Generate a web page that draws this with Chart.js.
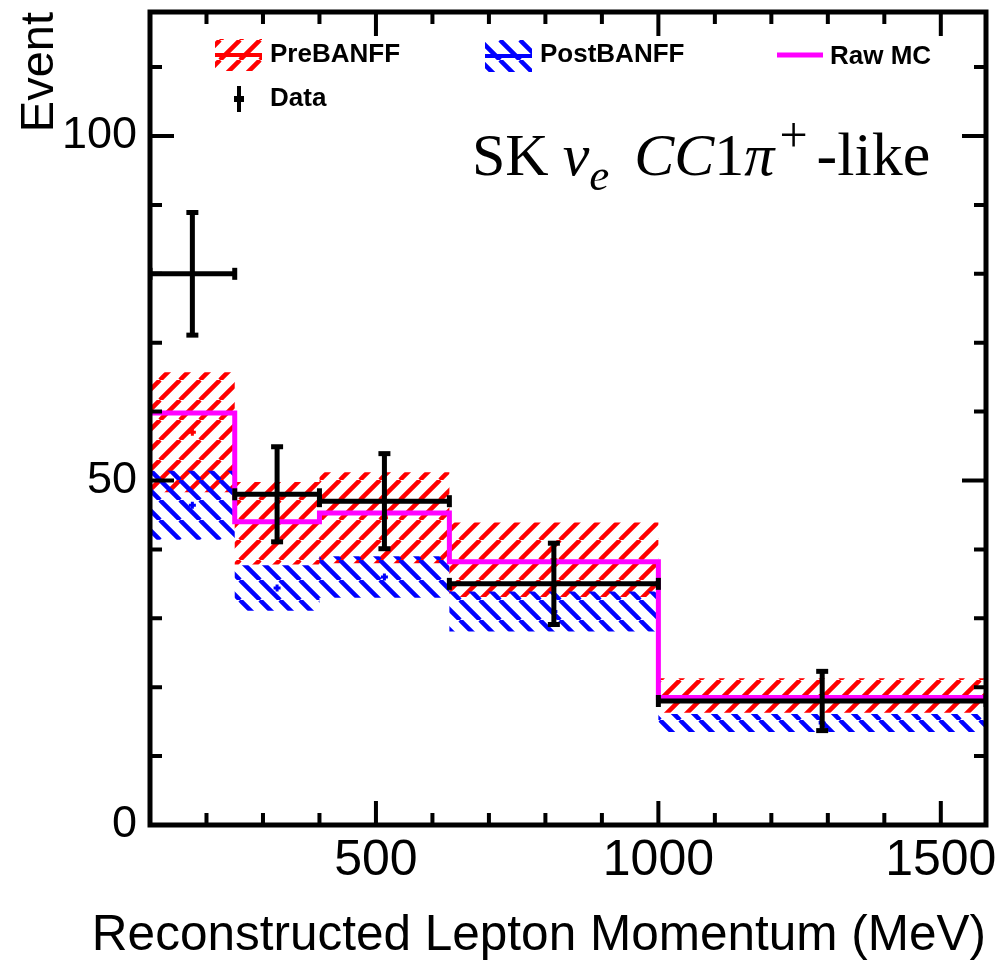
<!DOCTYPE html>
<html><head><meta charset="utf-8">
<script src="https://cdn.jsdelivr.net/npm/chart.js@4.4.0/dist/chart.umd.min.js"></script>
<style>html,body{margin:0;padding:0;background:#fff;overflow:hidden}</style>
</head><body>
<canvas id="c" width="997" height="963"></canvas>
<script>
// ---- data ----
const binEdges = [100, 250, 400, 630, 1000, 1580];
const preBANFF = [57.0, 43.8, 44.6, 38.5, 18.8];
const preBANFFErr = [8.7, 6.0, 6.6, 5.4, 2.5];
const postBANFF = [46.4, 34.4, 36.0, 31.0, 14.8];
const postBANFFErr = [5.0, 3.3, 3.0, 2.9, 1.3];
const rawMC = [59.8, 44.0, 45.3, 38.2, 18.5];
const dataEvents = [80, 48, 47, 35, 18];
const dataErr = [8.9, 6.9, 6.9, 5.9, 4.3];
const xTickLabels = [500, 1000, 1500];
const yTickLabels = [0, 50, 100];
const legendLabels = ['PreBANFF', 'PostBANFF', 'Raw MC', 'Data'];
const xTitle = 'Reconstructed Lepton Momentum (MeV)';
const yTitle = 'Event';
const xRange = [100, 1580];
const yRange = [0, 118];

// ---- helpers ----
const centers = preBANFF.map((_, i) => (binEdges[i] + binEdges[i + 1]) / 2);
function stepPts(vals) {
  return binEdges.map((e, i) => ({ x: e, y: vals[Math.min(i, vals.length - 1)] }));
}
function hatch(color, dir) {
  const s = 20, c = document.createElement('canvas');
  c.width = s; c.height = s;
  const g = c.getContext('2d');
  g.strokeStyle = color; g.lineWidth = 4.5;
  g.beginPath();
  for (let k = -1; k <= 1; k++) {
    if (dir > 0) { g.moveTo(k * s, s); g.lineTo(k * s + s, 0); }
    else { g.moveTo(k * s, 0); g.lineTo(k * s + s, s); }
  }
  g.stroke();
  return g.createPattern(c, 'repeat');
}
const redHatch = hatch('#ff0000', 1);
const blueHatch = hatch('#0000ff', -1);
const clear = 'rgba(0,0,0,0)';

const vErr = [], hErr = [];
dataEvents.forEach((v, i) => {
  vErr.push({ x: centers[i], y: v - dataErr[i] }, { x: centers[i], y: v + dataErr[i] }, { x: centers[i], y: null });
  hErr.push({ x: binEdges[i], y: v }, { x: binEdges[i + 1], y: v }, { x: binEdges[i + 1], y: null });
});

const bandBase = { stepped: 'before', pointRadius: 0, borderWidth: 1, borderColor: clear, fill: false };
const datasets = [
  { ...bandBase, label: 'PreTop', data: stepPts(preBANFF.map((v, i) => v + preBANFFErr[i])), order: 6 },
  { ...bandBase, label: 'PreBANFF', data: stepPts(preBANFF.map((v, i) => v - preBANFFErr[i])), fill: 0, backgroundColor: redHatch, order: 6 },
  { ...bandBase, label: 'PostTop', data: stepPts(postBANFF.map((v, i) => v + postBANFFErr[i])), order: 4 },
  { ...bandBase, label: 'PostBANFF', data: stepPts(postBANFF.map((v, i) => v - postBANFFErr[i])), fill: 2, backgroundColor: blueHatch, order: 4 },
  { label: 'PreC', data: preBANFF.map((v, i) => ({ x: centers[i], y: v })), showLine: false, pointStyle: 'cross', pointRadius: 3.5, pointBorderWidth: 3, pointBorderColor: '#ff0000', order: 5 },
  { label: 'PostC', data: postBANFF.map((v, i) => ({ x: centers[i], y: v })), showLine: false, pointStyle: 'cross', pointRadius: 3.5, pointBorderWidth: 3, pointBorderColor: '#0000ff', order: 3 },
  { label: 'Raw MC', data: stepPts(rawMC), stepped: 'before', borderColor: '#ff00ff', borderWidth: 5, pointRadius: 0, fill: false, order: 2 },
  { label: 'DataV', data: vErr, borderColor: '#000', borderWidth: 5, spanGaps: false, pointStyle: 'line', pointRadius: 6, pointBorderWidth: 5, pointBorderColor: '#000', fill: false, order: 1 },
  { label: 'DataH', data: hErr, borderColor: '#000', borderWidth: 5, spanGaps: false, pointStyle: 'line', pointRotation: 90, pointRadius: 6, pointBorderWidth: 5, pointBorderColor: '#000', fill: false, order: 0 }
];

const overlay = {
  id: 'overlay',
  afterDraw(chart) {
    const { ctx, chartArea: a, scales: { x, y } } = chart;
    ctx.save();
    ctx.strokeStyle = '#000'; ctx.lineWidth = 4; ctx.lineCap = 'butt';
    ctx.beginPath();
    for (let v = 200; v < xRange[1]; v += 100) {
      const px = x.getPixelForValue(v), len = v % 500 === 0 ? 24 : 12;
      ctx.moveTo(px, a.bottom); ctx.lineTo(px, a.bottom - len);
      ctx.moveTo(px, a.top); ctx.lineTo(px, a.top + len);
    }
    for (let v = 10; v < yRange[1]; v += 10) {
      const py = y.getPixelForValue(v), len = v % 50 === 0 ? 24 : 12;
      ctx.moveTo(a.left, py); ctx.lineTo(a.left + len, py);
      ctx.moveTo(a.right, py); ctx.lineTo(a.right - len, py);
    }
    ctx.stroke();
    ctx.lineWidth = 5;
    ctx.strokeRect(a.left, a.top, a.right - a.left, a.bottom - a.top);

    // axis titles
    ctx.fillStyle = '#000';
    ctx.font = '49.5px "Liberation Sans", Arial, sans-serif';
    ctx.textAlign = 'right'; ctx.textBaseline = 'alphabetic';
    ctx.fillText(xTitle, a.right, 950);
    ctx.save();
    ctx.translate(53, a.top); ctx.rotate(-Math.PI / 2);
    ctx.font = '47px "Liberation Sans", Arial, sans-serif';
    ctx.textAlign = 'right';
    ctx.fillText(yTitle, 0, 0);
    ctx.restore();

    // legend
    const icon = (pat, col, x0, y0) => {
      ctx.save();
      ctx.beginPath(); ctx.rect(x0, y0, 47, 32); ctx.clip();
      ctx.fillStyle = pat; ctx.fillRect(x0, y0, 47, 32);
      ctx.restore();
      ctx.strokeStyle = col; ctx.lineWidth = 4;
      ctx.beginPath(); ctx.moveTo(x0, y0 + 16); ctx.lineTo(x0 + 47, y0 + 16); ctx.stroke();
    };
    icon(redHatch, '#ff0000', 215, 39);
    icon(blueHatch, '#0000ff', 485, 40);
    ctx.strokeStyle = '#ff00ff'; ctx.lineWidth = 5;
    ctx.beginPath(); ctx.moveTo(777, 55); ctx.lineTo(823, 55); ctx.stroke();
    ctx.strokeStyle = '#000'; ctx.lineWidth = 4;
    ctx.beginPath(); ctx.moveTo(239, 86); ctx.lineTo(239, 112); ctx.stroke();
    ctx.lineWidth = 6;
    ctx.beginPath(); ctx.moveTo(234, 99); ctx.lineTo(244, 99); ctx.stroke();
    ctx.fillStyle = '#000';
    ctx.font = 'bold 26px "Liberation Sans", Arial, sans-serif';
    ctx.textAlign = 'left'; ctx.textBaseline = 'alphabetic';
    ctx.fillText(legendLabels[0], 270, 62);
    ctx.fillText(legendLabels[1], 540, 62);
    ctx.fillText(legendLabels[2], 830, 64);
    ctx.fillText(legendLabels[3], 270, 106);

    // annotation: SK nu_e CC1pi+-like
    const pieces = [
      { t: 'SK', it: false, s: 60, dy: 0, gap: 14 },
      { t: 'ν', it: true, s: 60, dy: 0, gap: 0 },
      { t: 'e', it: true, s: 45, dy: 15, gap: 25 },
      { t: 'CC', it: true, s: 60, dy: 0, gap: 0 },
      { t: '1', it: false, s: 60, dy: 0, gap: 0 },
      { t: 'π', it: true, s: 60, dy: 0, gap: 5 },
      { t: '+', it: false, s: 50, dy: -23, gap: 9 },
      { t: '-like', it: false, s: 62, dy: 0, gap: 0 }
    ];
    let cx = 472;
    ctx.textAlign = 'left';
    pieces.forEach(p => {
      ctx.font = (p.it ? 'italic ' : '') + p.s + 'px "Liberation Serif", "Times New Roman", serif';
      ctx.fillText(p.t, cx, 175 + p.dy);
      cx += ctx.measureText(p.t).width + p.gap;
    });
    ctx.restore();
  }
};

new Chart(document.getElementById('c').getContext('2d'), {
  type: 'line',
  data: { datasets },
  options: {
    responsive: false, animation: false, events: [],
    layout: { padding: { top: 12, right: 7, left: 0, bottom: 0 } },
    plugins: { legend: { display: false }, tooltip: { enabled: false } },
    scales: {
      x: {
        type: 'linear', min: xRange[0], max: xRange[1],
        grid: { display: false, drawTicks: false }, border: { display: false },
        afterBuildTicks: s => { s.ticks = xTickLabels.map(v => ({ value: v })); },
        afterFit: s => { s.height = 963 - 825; s.paddingLeft = 0; s.paddingRight = 0; },
        ticks: { font: { family: 'Liberation Sans', size: 50 }, color: '#000', padding: 6, maxRotation: 0, autoSkip: false, callback: v => String(v) }
      },
      y: {
        type: 'linear', min: yRange[0], max: yRange[1],
        grid: { display: false, drawTicks: false }, border: { display: false },
        afterBuildTicks: s => { s.ticks = yTickLabels.map(v => ({ value: v })); },
        afterFit: s => { s.width = 150; s.paddingTop = 0; s.paddingBottom = 0; },
        ticks: { font: { family: 'Liberation Sans', size: 45 }, color: '#000', padding: 13, callback: v => String(v) }
      }
    }
  },
  plugins: [overlay]
});
</script>
</body></html>
